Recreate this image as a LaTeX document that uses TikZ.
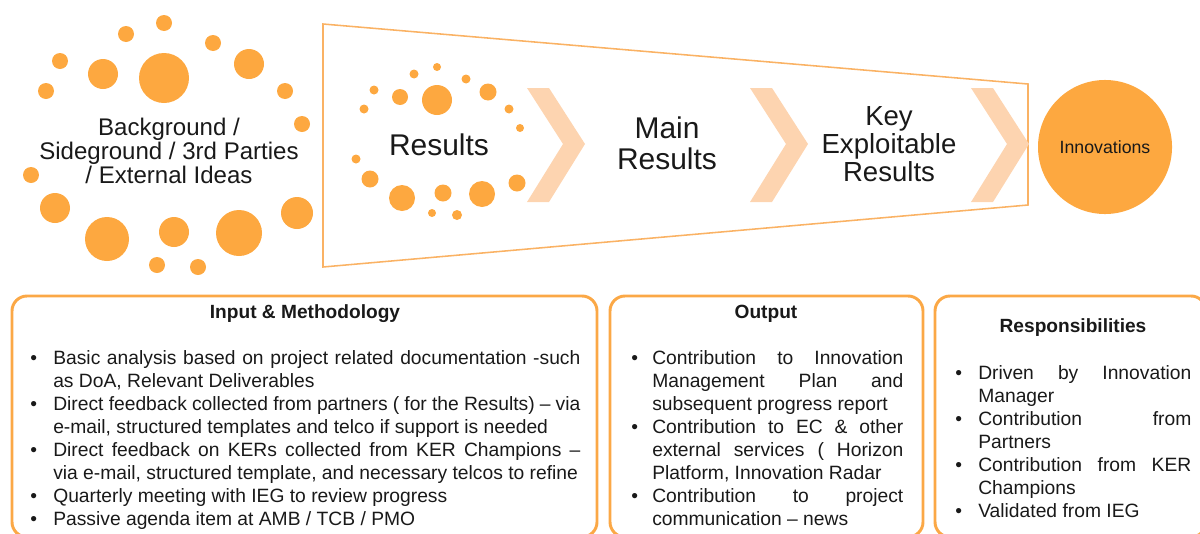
\documentclass[tikz,border=0pt]{standalone}
\usepackage{fontspec}
\setmainfont{Liberation Sans}
\usepackage{enumitem}
\usetikzlibrary{positioning}
\definecolor{dotcol}{RGB}{253,168,64}
\definecolor{chevcol}{RGB}{253,212,176}
\definecolor{funnelcol}{RGB}{250,178,100}
\definecolor{panelcol}{RGB}{251,168,70}
\definecolor{inkcol}{RGB}{25,25,25}
\setlist[itemize]{label=\textbullet,leftmargin=0.575cm,labelwidth=0.3cm,labelsep=0.275cm,align=left,itemsep=0pt,topsep=0pt,parsep=0pt,partopsep=0pt}
\tolerance=9999
\emergencystretch=1em
\tikzset{
  dot/.style={fill=dotcol},
  chevron/.style={fill=chevcol},
  funnel/.style={draw=funnelcol,line width=1.1pt},
  stagetext/.style={align=center,text=inkcol,inner sep=0pt},
  innov/.style={circle,fill=dotcol,minimum size=3.35cm,inner sep=0pt,font=\fontsize{12.6}{14}\selectfont,text=inkcol},
  panel/.style={draw=panelcol,line width=2.1pt,rounded corners=0.375cm},
  panelhead/.style={font=\fontsize{13.6}{16}\selectfont\bfseries,text=inkcol,inner sep=0pt},
  panellist/.style={anchor=north west,inner sep=0pt,text=inkcol,align=justify,
    font=\fontsize{13.7}{16.36}\selectfont}
}

\begin{document}
\begin{tikzpicture}[x=0.025cm,y=-0.025cm]
\useasboundingbox (0,0) rectangle (1200,533);
\clip (0,0) rectangle (1200,533);
% ---- top left: idea cloud ----
\foreach \x/\y/\r in {164/23/8,126/34/8,213/43/8,60/61/8,103/74/15,164/78/25,249/64/15,46/91/8,285/91/8,
  302/124/8,31/175/8,55/208/15,107/239/22,174/232/15,239/233/23,297/213/16,157/265/8,198/267/8}{
  \fill[dot] (\x,\y) circle (\r);}
\node[stagetext,font=\fontsize{17.1}{17.1}\selectfont] (bg) at (169,151)
  {Background /\\ Sideground / 3rd Parties\\ / External Ideas};
% ---- funnel ----
\draw[funnel] (323,24) -- (1028,84) -- (1028,205) -- (323,267) -- cycle;
\foreach \x/\y/\r in {437/67/4,414/74/4.5,466/79/4.5,374/90/4.5,400/97/8,437/100/15,488/92/8.5,364/109/4.5,
  509/109/4.5,520/128/4,356/159/4.5,370/179/8.5,402/198/13,443/193/8.5,482/194/13,517/183/8.5,432/213/4,457/215/5}{
  \fill[dot] (\x,\y) circle (\r);}
\foreach \cx in {527,750,971}{
  \fill[chevron] (\cx,88) -- ++(22,0) -- ++(36,56) -- ++(-36,58) -- ++(-22,0) -- ++(36,-58) -- cycle;}
\node[stagetext,font=\fontsize{21.3}{22}\selectfont] (res) at (439,145) {Results};
\node[stagetext,font=\fontsize{21.3}{22}\selectfont] (mainres) at (667,143) {Main\\ Results};
\node[stagetext,font=\fontsize{19.6}{19.9}\selectfont] (ker) at (889,144) {Key\\ Exploitable\\ Results};
\node[innov] (innovations) at (1105,147) {Innovations};
% ---- bottom: panels ----
\draw[panel] (12,296) rectangle (597,537);
\draw[panel] (610,296) rectangle (923,537);
\draw[panel] (935,296) rectangle (1206,537);
\node[panelhead] (inhead) at (305,314) {Input \& Methodology};
\node[panelhead] (outhead) at (766,314) {Output};
\node[panelhead] (resphead) at (1073,328) {Responsibilities};
\node[panellist,text width=13.75cm] (inlist) at (30,341) {%
  \begin{itemize}
  \item Basic analysis based on project related documentation -such\linebreak as DoA, Relevant Deliverables
  \item Direct feedback collected from partners ( for the Results) -- via\linebreak e-mail, structured templates and telco if support is needed
  \item Direct feedback on KERs collected from KER Champions --\linebreak via e-mail, structured template, and necessary telcos to refine
  \item Quarterly meeting with IEG to review progress
  \item Passive agenda item at AMB / TCB / PMO
  \end{itemize}};
\node[panellist,text width=6.8cm] (outlist) at (631,341) {%
  \begin{itemize}[leftmargin=0.525cm,labelsep=0.225cm]
  \item Contribution to Innovation\linebreak Management Plan and\linebreak subsequent progress report
  \item Contribution to EC \& other\linebreak external services ( Horizon\linebreak Platform, Innovation Radar
  \item Contribution to project\linebreak communication -- news
  \end{itemize}};
\node[panellist,text width=5.9cm] (resplist) at (955,356) {%
  \begin{itemize}
  \item Driven by Innovation\linebreak Manager
  \item Contribution from\linebreak Partners
  \item Contribution from KER\linebreak Champions
  \item Validated from IEG
  \end{itemize}};
\end{tikzpicture}
\end{document}
